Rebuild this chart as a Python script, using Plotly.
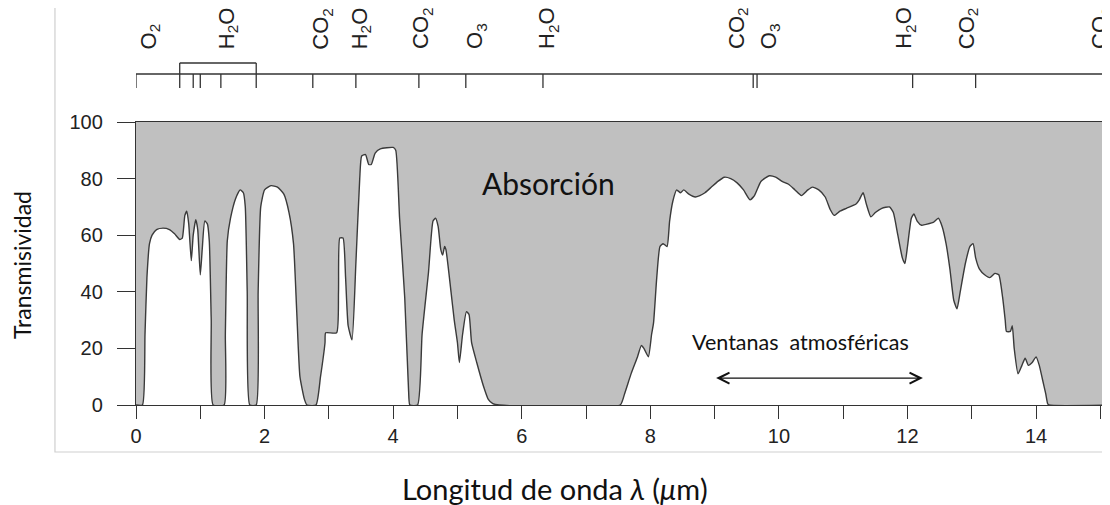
import plotly.graph_objects as go

# ---------------- data ----------------
wavelength = [
    0.0, 0.1, 0.14, 0.17, 0.21, 0.25, 0.32, 0.42, 0.52, 0.6, 0.68, 0.72, 0.76, 0.79, 0.82, 0.86,
    0.89, 0.93, 0.96, 1.0, 1.03, 1.07, 1.11, 1.14, 1.17, 1.2, 1.37, 1.39, 1.42, 1.47, 1.55, 1.62,
    1.67, 1.70, 1.73, 1.77, 1.87, 1.9, 1.94, 2.0, 2.1, 2.2, 2.3, 2.38, 2.45, 2.5, 2.55, 2.62,
    2.66, 2.8, 2.87, 2.94, 2.95, 3.12, 3.15, 3.17, 3.22, 3.26, 3.3, 3.36, 3.42, 3.48, 3.51, 3.57,
    3.62, 3.66, 3.72, 3.8, 4.0, 4.04, 4.1, 4.18, 4.24, 4.26, 4.38, 4.45, 4.55, 4.62, 4.66, 4.70,
    4.74, 4.77, 4.8, 4.82, 4.9, 4.95, 5.0, 5.03, 5.08, 5.14, 5.18, 5.22, 5.3, 5.4, 5.48, 5.55,
    5.65, 7.53, 7.6, 7.7, 7.8, 7.86, 7.9, 7.97, 8.02, 8.05, 8.1, 8.15, 8.2, 8.26, 8.3, 8.35,
    8.41, 8.47, 8.52, 8.6, 8.7, 8.77, 8.85, 8.95, 9.05, 9.15, 9.25, 9.35, 9.45, 9.55, 9.62, 9.72,
    9.85, 9.95, 10.05, 10.15, 10.25, 10.35, 10.45, 10.52, 10.62, 10.72, 10.8, 10.86, 10.95, 11.05, 11.2, 11.25,
    11.31, 11.36, 11.43, 11.5, 11.6, 11.72, 11.78, 11.85, 11.92, 11.96, 12.0, 12.06, 12.1, 12.15, 12.22, 12.32,
    12.4, 12.48, 12.54, 12.6, 12.66, 12.72, 12.77, 12.82, 12.9, 12.97, 13.02, 13.06, 13.12, 13.2, 13.28, 13.36,
    13.42, 13.48, 13.52, 13.54, 13.6, 13.63, 13.66, 13.72, 13.78, 13.83, 13.88, 13.94, 14.0, 14.05, 14.1, 14.15,
    14.18, 14.2, 15.2,
]
transmittance = [
    0, 0, 25, 45, 57, 60, 62, 62.5, 62, 60.5, 58.5, 59, 67, 68.5, 64, 51,
    60, 65.5, 62, 46, 55, 65, 64, 58, 30, 0, 0, 25, 58, 66, 73, 76,
    75, 70, 40, 0, 0, 40, 70, 76, 77.5, 77, 74.5, 68, 57, 33, 10, 2,
    0, 0, 10, 22, 25.5, 25.5, 40, 59, 59, 45, 28, 23, 50, 80, 88, 88.5,
    85, 85, 89, 90.5, 91, 90, 66, 38, 5, 0, 0, 25, 47, 65, 66, 63,
    55, 53, 56, 55, 40, 30, 22, 15, 25, 33, 32, 22, 15, 7, 2, 0.5,
    0, 0, 4, 11, 17, 21, 20, 17, 25, 29, 45, 56, 57, 56, 65, 72,
    76, 75, 76, 74.5, 73.5, 74, 75, 77, 79, 80.5, 80, 78.5, 76, 72.5, 74, 79,
    81, 80.5, 79, 78, 76, 74, 76, 77, 76, 73.5, 69, 67, 68.5, 69.5, 71, 72.5,
    75, 71, 66.5, 68, 69.5, 70, 68, 60, 52, 50, 56, 66, 67.5, 65, 63.5, 64,
    64.5, 66, 63, 57, 48, 37, 34, 40, 50, 56, 57, 52, 48, 46, 45, 46.5,
    46, 38, 30, 26, 26, 28, 20, 11, 14, 16.5, 14, 15, 17, 14, 9, 4,
    0.5, 0, 0,
]

x_tick_values = [0, 2, 4, 6, 8, 10, 12, 14]
y_tick_values = [0, 20, 40, 60, 80, 100]

# absorption bands marked on the top scale
band_positions = [0.0, 0.68, 0.89, 1.0, 1.32, 1.87, 2.75, 3.42, 4.4, 5.13, 6.33,
                  9.6, 9.66, 12.08, 13.06, 15.12]
bracket_band = [0.68, 1.87]
gas_labels = ["O<sub>2</sub>", "H<sub>2</sub>O", "CO<sub>2</sub>", "H<sub>2</sub>O",
              "CO<sub>2</sub>", "O<sub>3</sub>", "H<sub>2</sub>O", "CO<sub>2</sub>",
              "O<sub>3</sub>", "H<sub>2</sub>O", "CO<sub>2</sub>", "CO<sub>2</sub>"]
gas_label_x = [0.22, 1.43, 2.9, 3.5, 4.46, 5.3, 6.42, 9.36, 9.86, 11.97, 12.94, 15.02]

X_MAX = 15.15
DARK = "#333333"
TXT = "#222222"
GRAY_FILL = "#c0c0c0"

fig = go.Figure()
fig.add_trace(go.Scatter(
    x=wavelength, y=transmittance, mode="lines",
    line=dict(color="#3a3a3a", width=1.4, shape="spline", smoothing=0.5),
    fill="tozeroy", fillcolor="white", hoverinfo="skip", showlegend=False,
))

# --- top band scale (in paper y above the plot) ---
LINE_Y = 1.1696
TICK_Y = 1.120
BRACKET_Y = 1.2085
LABEL_Y = 1.25
shapes = []
shapes.append(dict(type="line", xref="x", yref="paper", x0=0, x1=X_MAX, y0=LINE_Y, y1=LINE_Y,
                   line=dict(color=DARK, width=1.3)))
for p in band_positions:
    shapes.append(dict(type="line", xref="x", yref="paper", x0=p, x1=p, y0=TICK_Y, y1=LINE_Y,
                       line=dict(color=DARK, width=1.3)))
for p in bracket_band:
    shapes.append(dict(type="line", xref="x", yref="paper", x0=p, x1=p, y0=LINE_Y, y1=BRACKET_Y,
                       line=dict(color=DARK, width=1.3)))
shapes.append(dict(type="line", xref="x", yref="paper", x0=bracket_band[0], x1=bracket_band[1],
                   y0=BRACKET_Y, y1=BRACKET_Y, line=dict(color=DARK, width=1.3)))
# light outer frame
shapes.append(dict(type="rect", xref="paper", yref="paper", x0=-0.0832, x1=1.01, y0=-0.166, y1=1.6,
                   line=dict(color="#cfcfcf", width=1.2), layer="below"))

annotations = []
for lab, gx in zip(gas_labels, gas_label_x):
    annotations.append(dict(text=lab, x=gx, xref="x", y=LABEL_Y, yref="paper", textangle=-90,
                            xanchor="center", yanchor="bottom", showarrow=False,
                            font=dict(family="Liberation Sans, Arial", size=22, color=TXT)))

annotations.append(dict(text="Absorción", x=6.42, y=78.6, xref="x", yref="y", showarrow=False,
                        xanchor="center", yanchor="middle",
                        font=dict(family="Lato", size=30, color="#111111")))
annotations.append(dict(text="Ventanas  atmosféricas", x=10.34, y=22.4, xref="x", yref="y",
                        showarrow=False, xanchor="center", yanchor="middle",
                        font=dict(family="Lato", size=21.5, color="#111111")))
# double-headed arrow
annotations.append(dict(text="", x=12.24, y=9.5, ax=9.0, ay=9.5, xref="x", yref="y",
                        axref="x", ayref="y", showarrow=True, arrowside="end+start",
                        arrowhead=5, startarrowhead=5, arrowsize=1.8, startarrowsize=1.8,
                        arrowwidth=1.2, arrowcolor="#111111", standoff=0, startstandoff=0))
# axis titles
annotations.append(dict(text="Transmisividad", x=-0.117, y=0.495, xref="paper", yref="paper",
                        textangle=-90, showarrow=False, xanchor="center", yanchor="middle",
                        font=dict(family="Lato", size=23, color="#111111")))
annotations.append(dict(text="Longitud de onda <i>λ</i> (<i>μ</i>m)", x=0.43, y=-0.295,
                        xref="paper", yref="paper", showarrow=False, xanchor="center",
                        yanchor="middle", font=dict(family="Lato", size=29, color="#111111")))

# the page has an 8 px body margin, so the figure is made 8 px smaller and margins reduced
fig.update_layout(
    width=1102, height=497,
    margin=dict(l=128, r=0, t=114, b=100),
    paper_bgcolor="white", plot_bgcolor=GRAY_FILL,
    shapes=shapes, annotations=annotations,
    xaxis=dict(range=[0, X_MAX], tickmode="array", tickvals=x_tick_values,
               ticks="outside", ticklen=13, tickwidth=1.3, tickcolor=DARK,
               minor=dict(dtick=1, tick0=0, ticks="outside", ticklen=13, tickwidth=1.3,
                          tickcolor=DARK, showgrid=False),
               showline=True, linecolor=DARK, linewidth=1.4, mirror=True,
               showgrid=False, zeroline=False,
               tickfont=dict(family="Liberation Sans, Arial", size=20, color=TXT)),
    yaxis=dict(range=[0, 100], tickmode="array", tickvals=y_tick_values,
               ticks="outside", ticklen=18, tickwidth=1.3, tickcolor=DARK,
               ticklabelstandoff=10,
               showline=True, linecolor=DARK, linewidth=1.4,
               showgrid=False, zeroline=False,
               tickfont=dict(family="Liberation Sans, Arial", size=20, color=TXT)),
)

fig.write_html("out.html")
